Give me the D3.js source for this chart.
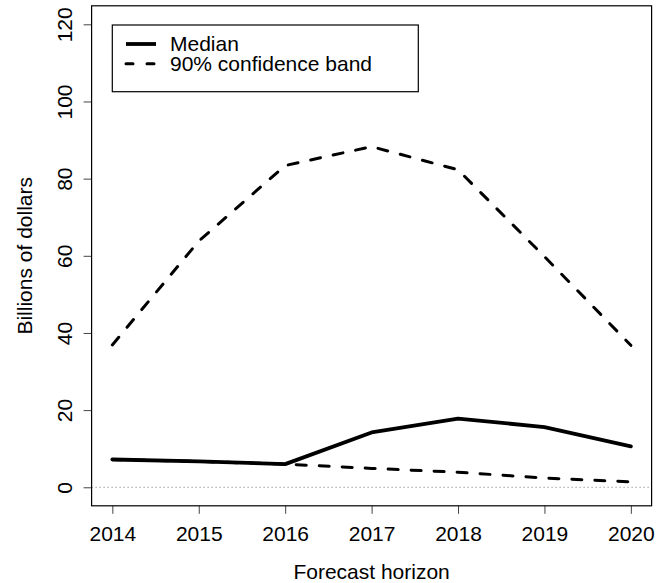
<!DOCTYPE html>
<html>
<head>
<script src="https://cdnjs.cloudflare.com/ajax/libs/d3/7.8.5/d3.min.js"></script>
<style>
  body { margin: 0; background: #fff; }
  svg { font-family: "Liberation Sans", Arial, Helvetica, sans-serif; }
</style>
</head>
<body>
<script>
// forecast values (billions of dollars)
var years = [2014, 2015, 2016, 2017, 2018, 2019, 2020];
var median = [7.2, 6.7, 6.0, 14.2, 17.8, 15.6, 10.6];
var lower = [7.2, 6.7, 6.0, 4.9, 3.9, 2.4, 1.4];
var upper = [36.9, 63.8, 83.4, 88.3, 82.3, 59.8, 36.8];
var yTicks = [0, 20, 40, 60, 80, 100, 120];
var legendLabels = ["Median", "90% confidence band"];

var width = 657, height = 583;
var plotL = 91.6, plotR = 651.6, plotT = 5.8, plotB = 505.8;
var fontSize = 21;

var svg = d3.select("body").append("svg")
    .attr("width", width)
    .attr("height", height);

// R style: 4% padding on each side
var x = d3.scaleLinear()
    .domain([2014 - 0.24, 2020 + 0.24])
    .range([plotL, plotR]);

var y = d3.scaleLinear()
    .domain([-4.8, 124.8])
    .range([plotB, plotT]);

// zero reference line
svg.append("line")
    .attr("x1", plotL).attr("x2", plotR)
    .attr("y1", y(0)).attr("y2", y(0))
    .attr("stroke", "#777")
    .attr("stroke-width", 1)
    .attr("stroke-dasharray", "1,3");

function series(vals) {
    return years.map(function (yr, i) { return { year: yr, value: vals[i] }; });
}

var line = d3.line()
    .x(function (d) { return x(d.year); })
    .y(function (d) { return y(d.value); });

[upper, lower].forEach(function (vals) {
    svg.append("path")
        .datum(series(vals))
        .attr("fill", "none")
        .attr("stroke", "#000")
        .attr("stroke-width", 3)
        .attr("stroke-linecap", "round")
        .attr("stroke-dasharray", "10,13")
        .attr("d", line);
});

svg.append("path")
    .datum(series(median))
    .attr("fill", "none")
    .attr("stroke", "#000")
    .attr("stroke-width", 3.8)
    .attr("stroke-linejoin", "round")
    .attr("stroke-linecap", "round")
    .attr("d", line);

// axes
var xAxis = d3.axisBottom(x)
    .tickValues(years)
    .tickFormat(d3.format("d"))
    .tickSize(8);

var gx = svg.append("g")
    .attr("transform", "translate(0," + plotB + ")")
    .call(xAxis);
gx.select(".domain").remove();
gx.selectAll("line").attr("stroke", "#444");
gx.selectAll("text")
    .attr("font-size", fontSize)
    .attr("fill", "#000")
    .attr("font-family", "Liberation Sans, Arial, sans-serif")
    .attr("y", 34.9)
    .attr("dy", null);

var yAxis = d3.axisLeft(y)
    .tickValues(yTicks)
    .tickSize(8);

var gy = svg.append("g")
    .attr("transform", "translate(" + plotL + ",0)")
    .call(yAxis);
gy.select(".domain").remove();
gy.selectAll("line").attr("stroke", "#444");
gy.selectAll("text")
    .attr("font-size", fontSize)
    .attr("fill", "#000")
    .attr("font-family", "Liberation Sans, Arial, sans-serif")
    .attr("x", null).attr("dy", null)
    .attr("text-anchor", "middle")
    .attr("transform", "translate(-19.9,0) rotate(-90)");

// plot box
svg.append("rect")
    .attr("x", plotL).attr("y", plotT)
    .attr("width", plotR - plotL).attr("height", plotB - plotT)
    .attr("fill", "none")
    .attr("stroke", "#000")
    .attr("stroke-width", 1.2);

// axis titles
svg.append("text")
    .attr("x", (plotL + plotR) / 2)
    .attr("y", 579.3)
    .attr("text-anchor", "middle")
    .attr("font-size", fontSize)
    .text("Forecast horizon");

svg.append("text")
    .attr("transform", "translate(31.7," + (plotT + plotB) / 2 + ") rotate(-90)")
    .attr("text-anchor", "middle")
    .attr("font-size", fontSize)
    .text("Billions of dollars");

// legend
var lg = svg.append("g");
lg.append("rect")
    .attr("x", 112.3).attr("y", 25)
    .attr("width", 306).attr("height", 66.7)
    .attr("fill", "#fff")
    .attr("stroke", "#000")
    .attr("stroke-width", 1.2);

legendLabels.forEach(function (lab, i) {
    var ly = 44 + i * 19.7;
    lg.append("line")
        .attr("x1", 126).attr("x2", 156)
        .attr("y1", ly).attr("y2", ly)
        .attr("stroke", "#000")
        .attr("stroke-width", i === 0 ? 3.8 : 3)
        .attr("stroke-linecap", i === 0 ? "butt" : "round")
        .attr("stroke-dasharray", i === 0 ? null : "7,14");
    lg.append("text")
        .attr("x", 170)
        .attr("y", ly + 6.8)
        .attr("font-size", fontSize)
        .text(lab);
});
</script>
</body>
</html>
